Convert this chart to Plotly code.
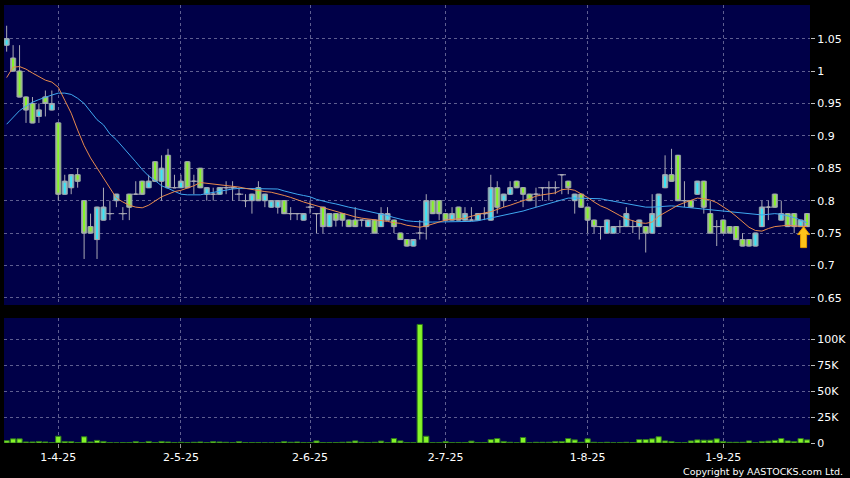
import plotly.graph_objects as go

# ---------------- data ----------------
opens = [1.04,1.02,1.00,0.96,0.95,0.93,0.96,0.94,0.92,0.81,
         0.82,0.84,0.80,0.76,0.74,0.77,0.78,0.80,0.78,0.81,
         0.81,0.83,0.82,0.86,0.83,0.87,0.82,0.82,0.86,0.83,
         0.85,0.81,0.81,0.81,0.82,0.82,0.81,0.80,0.80,0.82,
         0.80,0.79,0.79,0.80,0.78,0.78,0.77,0.79,0.78,0.79,
         0.76,0.78,0.78,0.77,0.77,0.77,0.76,0.77,0.76,0.77,
         0.77,0.75,0.74,0.73,0.75,0.76,0.80,0.80,0.78,0.77,
         0.79,0.77,0.77,0.77,0.78,0.77,0.82,0.80,0.81,0.83,
         0.82,0.81,0.81,0.82,0.82,0.82,0.84,0.83,0.80,0.81,
         0.79,0.77,0.76,0.75,0.75,0.76,0.76,0.76,0.76,0.76,
         0.75,0.76,0.82,0.84,0.87,0.80,0.80,0.81,0.83,0.78,
         0.76,0.77,0.76,0.76,0.74,0.74,0.73,0.76,0.79,0.81,
         0.77,0.78,0.78,0.76,0.78]
highs = [1.07,1.04,1.04,0.96,0.96,0.95,0.97,0.97,0.92,0.84,
         0.84,0.85,0.80,0.78,0.79,0.82,0.80,0.81,0.79,0.81,
         0.83,0.83,0.84,0.86,0.87,0.88,0.84,0.84,0.86,0.84,
         0.85,0.82,0.82,0.82,0.83,0.83,0.82,0.81,0.81,0.83,
         0.81,0.80,0.80,0.80,0.79,0.78,0.78,0.80,0.78,0.79,
         0.78,0.78,0.78,0.77,0.79,0.77,0.77,0.77,0.79,0.79,
         0.77,0.75,0.74,0.74,0.77,0.81,0.80,0.80,0.78,0.79,
         0.79,0.79,0.79,0.78,0.79,0.84,0.83,0.81,0.83,0.83,
         0.82,0.81,0.82,0.82,0.83,0.83,0.84,0.83,0.81,0.81,
         0.79,0.77,0.76,0.77,0.76,0.77,0.79,0.77,0.77,0.76,
         0.81,0.81,0.87,0.88,0.87,0.83,0.80,0.83,0.83,0.80,
         0.77,0.77,0.76,0.76,0.75,0.74,0.75,0.80,0.80,0.81,
         0.80,0.78,0.78,0.77,0.78]
lows = [1.03,1.00,0.96,0.92,0.92,0.92,0.93,0.94,0.80,0.81,
        0.81,0.82,0.71,0.75,0.71,0.77,0.77,0.79,0.77,0.77,
        0.81,0.81,0.82,0.83,0.80,0.82,0.82,0.82,0.82,0.81,
        0.82,0.80,0.80,0.81,0.81,0.80,0.80,0.79,0.78,0.80,
        0.79,0.79,0.78,0.78,0.77,0.77,0.77,0.78,0.75,0.75,
        0.76,0.76,0.76,0.76,0.76,0.76,0.76,0.75,0.76,0.77,
        0.75,0.74,0.73,0.73,0.74,0.74,0.78,0.77,0.77,0.77,
        0.77,0.77,0.77,0.77,0.77,0.77,0.78,0.79,0.81,0.82,
        0.79,0.80,0.79,0.80,0.80,0.81,0.81,0.81,0.78,0.79,
        0.75,0.75,0.74,0.75,0.75,0.75,0.76,0.75,0.74,0.72,
        0.75,0.76,0.82,0.83,0.80,0.79,0.79,0.81,0.78,0.75,
        0.73,0.75,0.75,0.74,0.73,0.73,0.73,0.76,0.77,0.79,
        0.77,0.76,0.75,0.76,0.76]
closes = [1.05,1.00,0.96,0.94,0.92,0.94,0.95,0.95,0.81,0.83,
          0.84,0.83,0.75,0.75,0.79,0.79,0.78,0.81,0.78,0.79,
          0.81,0.81,0.83,0.83,0.85,0.82,0.82,0.83,0.82,0.83,
          0.82,0.82,0.81,0.82,0.82,0.82,0.81,0.80,0.81,0.80,
          0.81,0.80,0.80,0.78,0.78,0.78,0.78,0.79,0.78,0.76,
          0.78,0.77,0.77,0.76,0.76,0.77,0.77,0.75,0.78,0.78,
          0.76,0.74,0.73,0.74,0.75,0.80,0.78,0.78,0.77,0.78,
          0.77,0.78,0.77,0.78,0.78,0.82,0.79,0.81,0.82,0.82,
          0.81,0.80,0.81,0.82,0.82,0.82,0.84,0.82,0.81,0.79,
          0.77,0.76,0.76,0.77,0.76,0.76,0.78,0.76,0.77,0.75,
          0.78,0.81,0.84,0.83,0.80,0.80,0.79,0.83,0.79,0.75,
          0.76,0.75,0.75,0.74,0.73,0.73,0.75,0.79,0.79,0.79,
          0.78,0.76,0.76,0.77,0.76]
ma_short = [0.990,1.006,1.007,1.003,0.997,0.991,0.986,0.983,0.975,0.955,
            0.935,0.909,0.885,0.866,0.850,0.835,0.818,0.804,0.798,0.793,
            0.790,0.789,0.793,0.800,0.806,0.810,0.814,0.816,0.819,0.823,
            0.828,0.827,0.826,0.824,0.823,0.822,0.821,0.819,0.817,0.816,
            0.814,0.813,0.811,0.808,0.805,0.801,0.798,0.795,0.792,0.789,
            0.786,0.783,0.780,0.777,0.775,0.773,0.772,0.771,0.770,0.768,
            0.766,0.765,0.762,0.760,0.759,0.761,0.764,0.767,0.770,0.771,
            0.772,0.773,0.776,0.779,0.781,0.783,0.787,0.790,0.793,0.797,
            0.800,0.803,0.807,0.809,0.811,0.812,0.817,0.818,0.816,0.811,
            0.805,0.798,0.792,0.788,0.782,0.777,0.772,0.769,0.766,0.765,
            0.767,0.776,0.782,0.788,0.793,0.797,0.801,0.804,0.803,0.801,
            0.797,0.791,0.784,0.776,0.767,0.759,0.754,0.753,0.757,0.760,
            0.761,0.762,0.761,0.760,0.760]
ma_long = [0.918,0.928,0.939,0.946,0.952,0.956,0.960,0.963,0.966,0.966,
           0.964,0.958,0.950,0.937,0.925,0.917,0.903,0.894,0.883,0.872,
           0.860,0.848,0.838,0.831,0.823,0.819,0.815,0.810,0.809,0.809,
           0.809,0.811,0.813,0.815,0.817,0.818,0.819,0.819,0.819,0.819,
           0.819,0.819,0.818,0.815,0.812,0.810,0.808,0.806,0.802,0.799,
           0.797,0.795,0.792,0.790,0.788,0.786,0.784,0.781,0.779,0.777,
           0.774,0.771,0.769,0.768,0.767,0.767,0.767,0.767,0.767,0.767,
           0.767,0.767,0.768,0.769,0.771,0.773,0.775,0.777,0.779,0.781,
           0.784,0.787,0.790,0.793,0.796,0.798,0.801,0.804,0.804,0.804,
           0.804,0.804,0.803,0.801,0.799,0.797,0.795,0.793,0.791,0.790,
           0.790,0.791,0.792,0.792,0.791,0.790,0.789,0.788,0.787,0.786,
           0.785,0.784,0.783,0.782,0.781,0.780,0.778,0.778,0.779,0.780,
           0.779,0.777,0.774,0.770,0.766]
volume_k = [2.2,4.0,4.0,1.0,1.0,1.5,1.0,0.3,6.5,1.5,
            1.3,0.5,6.0,1.0,2.5,1.5,0.4,0.2,0.4,0.4,
            1.3,0.4,1.5,0.4,1.5,1.0,0.4,0.7,0.4,0.7,
            1.0,0.4,1.3,1.0,0.7,0.4,1.3,0.4,0.4,0.4,
            0.2,0.2,0.4,1.3,0.7,1.0,0.5,0.4,2.0,0.4,
            0.4,0.4,0.7,1.0,2.0,0.7,0.4,0.7,1.8,0.4,
            4.3,2.0,0.5,0.3,114.0,6.5,0.3,0.3,1.3,0.3,
            0.5,0.5,1.8,0.5,0.5,3.3,4.3,1.5,0.7,0.3,
            5.3,0.2,0.7,0.7,0.7,1.5,1.5,4.3,3.0,0.7,
            4.0,0.7,0.5,0.7,0.2,0.3,0.7,0.5,3.3,3.3,
            4.0,6.0,2.0,1.3,0.5,0.3,2.0,3.0,2.7,2.7,
            4.0,1.5,0.7,0.7,0.7,2.0,0.2,1.3,1.8,2.5,
            4.3,2.0,1.3,4.3,3.0]
tick_index = [8, 27, 47, 68, 90, 111]
tick_labels = ["1-4-25", "2-5-25", "2-6-25", "2-7-25", "1-8-25", "1-9-25"]
price_ticks = [0.65, 0.70, 0.75, 0.80, 0.85, 0.90, 0.95, 1.00, 1.05]
price_tick_text = ["0.65", "0.7", "0.75", "0.8", "0.85", "0.9", "0.95", "1", "1.05"]
vol_ticks = [0, 25000, 50000, 75000, 100000]
vol_tick_text = ["0", "25K", "50K", "75K", "100K"]

# ---------------- styling ----------------
idx = list(range(len(closes)))
volume = [v * 1000 for v in volume_k]
CYAN = "#38E6F6"
LIME = "#86F428"
WICK = "#A9A9B4"
EDGE = "#8E9AA0"
BG = "#000048"
GRID = "#5E5E90"
FONT = "DejaVu Sans"
BODY_W = 0.8

fig = go.Figure()
# wicks (and doji crosses) through the candlestick trace
fig.add_trace(go.Candlestick(
    x=idx, open=opens, high=highs, low=lows, close=closes,
    xaxis="x", yaxis="y",
    increasing=dict(fillcolor=CYAN, line=dict(color=WICK, width=1)),
    decreasing=dict(fillcolor=LIME, line=dict(color=WICK, width=1)),
    whiskerwidth=0, showlegend=False, hoverinfo="skip"))

# wider candle bodies drawn as floating bars
up_x = [i for i in idx if closes[i] > opens[i]]
dn_x = [i for i in idx if closes[i] < opens[i]]
dj_x = [i for i in idx if closes[i] == opens[i]]
fig.add_trace(go.Bar(x=up_x, base=[opens[i] for i in up_x],
                     y=[closes[i] - opens[i] for i in up_x],
                     width=BODY_W, xaxis="x", yaxis="y",
                     marker=dict(color=CYAN, line=dict(color=EDGE, width=1)),
                     showlegend=False, hoverinfo="skip"))
fig.add_trace(go.Bar(x=dn_x, base=[closes[i] for i in dn_x],
                     y=[opens[i] - closes[i] for i in dn_x],
                     width=BODY_W, xaxis="x", yaxis="y",
                     marker=dict(color=LIME, line=dict(color=EDGE, width=1)),
                     showlegend=False, hoverinfo="skip"))
fig.add_trace(go.Scatter(x=dj_x, y=[opens[i] for i in dj_x], mode="markers",
                         xaxis="x", yaxis="y",
                         marker=dict(symbol="line-ew", size=6,
                                     line=dict(color=WICK, width=1)),
                         showlegend=False, hoverinfo="skip"))

fig.add_trace(go.Scatter(x=idx, y=ma_long, mode="lines", xaxis="x", yaxis="y",
                         line=dict(color="#3FA8F0", width=1), showlegend=False,
                         hoverinfo="skip"))
fig.add_trace(go.Scatter(x=idx, y=ma_short, mode="lines", xaxis="x", yaxis="y",
                         line=dict(color="#E88A4C", width=1), showlegend=False,
                         hoverinfo="skip"))
fig.add_trace(go.Bar(x=idx, y=volume, xaxis="x2", yaxis="y2", width=0.82,
                     marker=dict(color=LIME, line=dict(color="#2E7A1C", width=1)),
                     showlegend=False, hoverinfo="skip"))

xr = [-0.41, len(idx) - 1 + 0.45]
common_x = dict(range=xr, tickvals=tick_index, ticktext=tick_labels,
                showgrid=True, gridcolor=GRID, griddash="3px,3px", gridwidth=1,
                zeroline=False, showline=False, fixedrange=True)
fig.update_layout(
    width=850, height=478,
    paper_bgcolor="black", plot_bgcolor=BG,
    margin=dict(l=4, r=40, t=5, b=35),
    barmode="overlay",
    xaxis=dict(domain=[0, 1], anchor="y", showticklabels=False, ticks="",
               rangeslider=dict(visible=False), **common_x),
    xaxis2=dict(domain=[0, 1], anchor="y2", matches="x", showticklabels=True,
                ticks="outside", ticklen=4, tickcolor="#9A9A9A",
                tickfont=dict(color="white", size=11, family=FONT), **common_x),
    yaxis=dict(domain=[0.3151, 1], anchor="x", side="right", range=[0.639, 1.102],
               tickvals=price_ticks, ticktext=price_tick_text,
               ticks="outside", ticklen=4, tickcolor="#BDBDBD",
               tickfont=dict(color="white", size=11, family=FONT),
               showgrid=True, gridcolor=GRID, griddash="3px,3px", gridwidth=1,
               zeroline=False, showline=False, fixedrange=True),
    yaxis2=dict(domain=[0, 0.2854], anchor="x2", side="right", range=[0, 120200],
                tickvals=vol_ticks, ticktext=vol_tick_text,
                ticks="outside", ticklen=4, tickcolor="#BDBDBD",
                tickfont=dict(color="white", size=11, family=FONT),
                showgrid=True, gridcolor=GRID, griddash="3px,3px", gridwidth=1,
                zeroline=False, showline=False, fixedrange=True),
)

# yellow arrow pointing at last close (pixel-sized shape anchored on the data)
fig.add_shape(type="path", xref="x", yref="y",
              xsizemode="pixel", ysizemode="pixel",
              xanchor=idx[-1], yanchor=closes[-1],
              path="M -3.5,0 L -9.5,-8 L -6.5,-8 L -6.5,-21 L -0.5,-21 L -0.5,-8 L 2.5,-8 Z",
              fillcolor="#FFC21A", line=dict(color="#E89A00", width=1), layer="above")

fig.add_annotation(text="Copyright by AASTOCKS.com Ltd.", xref="paper", yref="paper",
                   x=1.0434, y=-0.064, xanchor="right", yanchor="middle",
                   showarrow=False, font=dict(color="white", size=9.5, family=FONT))

fig.write_html("out.html", config={"displayModeBar": False},
               post_script="document.body.style.margin='0';"
                           "document.body.style.background='black';")
